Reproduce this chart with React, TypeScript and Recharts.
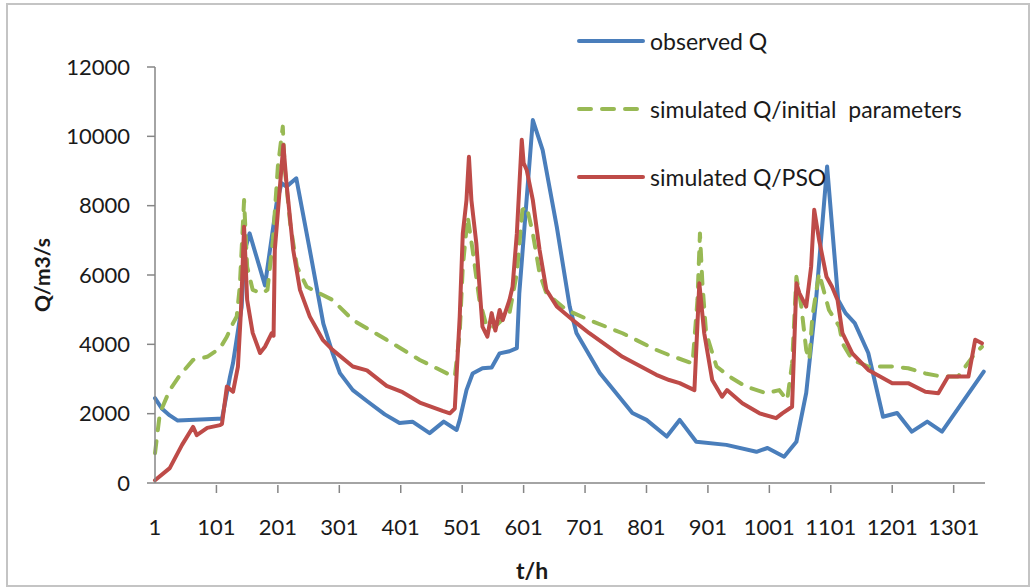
import React from "react";
import { LineChart, Line, XAxis, YAxis } from "recharts";

// [t (h), Q (m3/s)]
const observedQ: [number, number][] = [
  [1, 2450], [12, 2150], [25, 1950], [38, 1800], [103, 1850], [110, 1850],
  [123, 3060], [128, 3460], [142, 5080], [147, 6700], [155, 7200], [180, 5700],
  [199, 8080], [207, 8650], [215, 8550], [231, 8790], [253, 6720], [275, 4600],
  [290, 3750], [302, 3170], [323, 2680], [347, 2350], [375, 1980], [399, 1730],
  [420, 1770], [448, 1440], [471, 1770], [492, 1530], [497, 1820], [508, 2680],
  [518, 3160], [534, 3310], [549, 3330], [562, 3740], [578, 3800], [590, 3890],
  [594, 5480], [616, 10470], [632, 9600], [655, 7390], [676, 5090], [687, 4330],
  [725, 3170], [778, 2020], [801, 1820], [834, 1340], [855, 1820], [882, 1190],
  [931, 1100], [980, 900], [998, 1010], [1025, 760], [1045, 1190], [1061, 2600],
  [1077, 5280], [1095, 9130], [1113, 5280], [1125, 4900], [1140, 4610],
  [1162, 3750], [1186, 1910], [1209, 2020], [1233, 1480], [1258, 1770],
  [1282, 1480], [1350, 3210],
];

const initialQ: [number, number][] = [
  [1, 860], [9, 2020], [25, 2680], [42, 3120], [63, 3550], [86, 3640],
  [107, 3890], [118, 4220], [128, 4610], [134, 4800], [139, 5660], [146, 8160],
  [151, 6240], [160, 5570], [175, 5470], [184, 5570], [193, 7010], [201, 9130],
  [209, 10280], [212, 9130], [221, 7490], [232, 6240], [248, 5660], [290, 5280],
  [323, 4700], [378, 4130], [432, 3550], [481, 3120], [489, 3070], [497, 4320],
  [502, 6240], [510, 7680], [518, 6720], [529, 5280], [541, 4510], [554, 4510],
  [578, 4900], [590, 6050], [599, 7880], [606, 7970], [616, 7200], [627, 6050],
  [638, 5470], [671, 4990], [708, 4700], [762, 4320], [817, 3840], [838, 3690],
  [876, 3450], [884, 5280], [888, 7200], [892, 5760], [898, 4330], [915, 3360],
  [936, 3070], [963, 2780], [996, 2590], [1017, 2680], [1030, 2390], [1038, 3450],
  [1045, 5950], [1053, 5090], [1061, 3840], [1066, 3550], [1071, 4800],
  [1082, 6050], [1098, 4990], [1115, 4510], [1120, 4030], [1136, 3550],
  [1162, 3360], [1201, 3360], [1227, 3310], [1255, 3160], [1282, 3070],
  [1308, 3070], [1336, 3740], [1347, 3930],
];

const psoQ: [number, number][] = [
  [1, 80], [25, 430], [45, 1100], [63, 1620], [69, 1380], [86, 1590],
  [107, 1670], [110, 1700], [118, 2780], [128, 2630], [136, 3360], [141, 5000],
  [146, 7390], [151, 5280], [160, 4330], [172, 3750], [180, 3930], [191, 4320],
  [194, 4250], [196, 6720], [207, 9130], [210, 9750], [215, 8650], [226, 6720],
  [237, 5570], [253, 4800], [274, 4130], [290, 3840], [323, 3360], [346, 3250],
  [378, 2800], [404, 2620], [432, 2320], [469, 2080], [481, 2010], [489, 2150],
  [497, 4800], [502, 7200], [508, 8160], [512, 9410], [516, 8160], [524, 6920],
  [534, 4510], [542, 4220], [549, 4900], [555, 4400], [562, 4990], [567, 4700],
  [578, 5280], [583, 5660], [590, 7200], [598, 9900], [601, 9230], [606, 9030],
  [616, 8160], [627, 6720], [638, 5570], [655, 5090], [681, 4700], [708, 4320],
  [762, 3640], [817, 3120], [838, 2970], [855, 2880], [879, 2680], [887, 5760],
  [895, 4320], [908, 2970], [924, 2490], [932, 2680], [957, 2300], [985, 2010],
  [1012, 1870], [1022, 2010], [1038, 2200], [1045, 5760], [1050, 5470],
  [1061, 5090], [1069, 6240], [1074, 7880], [1082, 7010], [1094, 5950],
  [1103, 5660], [1112, 5280], [1120, 4320], [1136, 3740], [1162, 3260],
  [1201, 2880], [1227, 2880], [1255, 2630], [1276, 2590], [1292, 3070],
  [1325, 3070], [1336, 4130], [1347, 4030],
];

const xTicks = [1, 101, 201, 301, 401, 501, 601, 701, 801, 901, 1001, 1101, 1201, 1301];
const yTicks = [0, 2000, 4000, 6000, 8000, 10000, 12000];

const series = [
  { name: "observed Q", data: observedQ, color: "#4A7EBB", dash: undefined },
  { name: "simulated Q/initial  parameters", data: initialQ, color: "#98B954", dash: "12 11" },
  { name: "simulated Q/PSO", data: psoQ, color: "#BE4B48", dash: undefined },
];

const FONT = "Lato, 'Open Sans', sans-serif";
const TEXT = "#1a1a1a";
const AXIS = "#868686";

const XTick = (props: any) => {
  const { x, y, payload } = props;
  return (
    <g>
      {payload.value !== 1 && <line x1={x} y1={y - 8} x2={x} y2={y} stroke={AXIS} strokeWidth={1.5} />}
      <text x={x} y={y + 26} dy="0.71em" textAnchor="middle" fill={TEXT} fontSize={22} fontFamily={FONT}>
        {payload.value}
      </text>
    </g>
  );
};

export default function App() {
  return (
    <div style={{ position: "absolute", left: 0, top: 0, width: 1030, height: 587, background: "#fff" }}>
      <div
        style={{
          position: "absolute",
          left: 6,
          top: 3,
          width: 1020,
          height: 580,
          border: "2px solid #c4c4c4",
        }}
      />
      <LineChart
        width={1030}
        height={587}
        margin={{ top: 67, right: 45, bottom: 44, left: 65 }}
        style={{ position: "absolute", left: 0, top: 0 }}
      >
        <XAxis
          type="number"
          dataKey="t"
          domain={[1, 1352]}
          ticks={xTicks}
          interval={0}
          height={60}
          tickLine={false}
          tickSize={8}
          tick={<XTick />}
          stroke={AXIS}
          strokeWidth={1.5}
          allowDuplicatedCategory={false}
        />
        <YAxis
          type="number"
          domain={[0, 12000]}
          ticks={yTicks}
          interval={0}
          width={90}
          tickSize={8}
          tickMargin={17}
          stroke={AXIS}
          strokeWidth={1.5}
          tick={{ fill: TEXT, fontSize: 22, fontFamily: FONT }}
        />
        {series.map((s) => (
          <Line
            key={s.name}
            data={s.data.map(([t, q]) => ({ t, q }))}
            dataKey="q"
            type="linear"
            stroke={s.color}
            strokeWidth={4}
            strokeDasharray={s.dash}
            strokeLinecap="round"
            strokeLinejoin="round"
            dot={false}
            activeDot={false}
            isAnimationActive={false}
          />
        ))}
      </LineChart>
      {/* legend */}
      {series.map((s, i) => (
        <div
          key={s.name}
          style={{ position: "absolute", left: 577, top: 41 + i * 68 - 16, height: 32, display: "flex", alignItems: "center" }}
        >
          <svg width={70} height={10} style={{ marginRight: 3 }}>
            <line x1={2} y1={5} x2={66} y2={5} stroke={s.color} strokeWidth={4} strokeDasharray={s.dash} strokeLinecap="round" />
          </svg>
          <span style={{ fontFamily: FONT, fontSize: 23, color: TEXT, whiteSpace: "pre" }}>{s.name}</span>
        </div>
      ))}
      <div
        style={{
          position: "absolute",
          left: 41,
          top: 275,
          transform: "translate(-50%, -50%) rotate(-90deg)",
          fontFamily: FONT,
          fontWeight: 700,
          fontSize: 21,
          color: TEXT,
          whiteSpace: "nowrap",
        }}
      >
        Q/m3/s
      </div>
      <div
        style={{
          position: "absolute",
          left: 532,
          top: 570,
          transform: "translate(-50%, -50%)",
          fontFamily: FONT,
          fontWeight: 700,
          fontSize: 23,
          color: TEXT,
        }}
      >
        t/h
      </div>
    </div>
  );
}
